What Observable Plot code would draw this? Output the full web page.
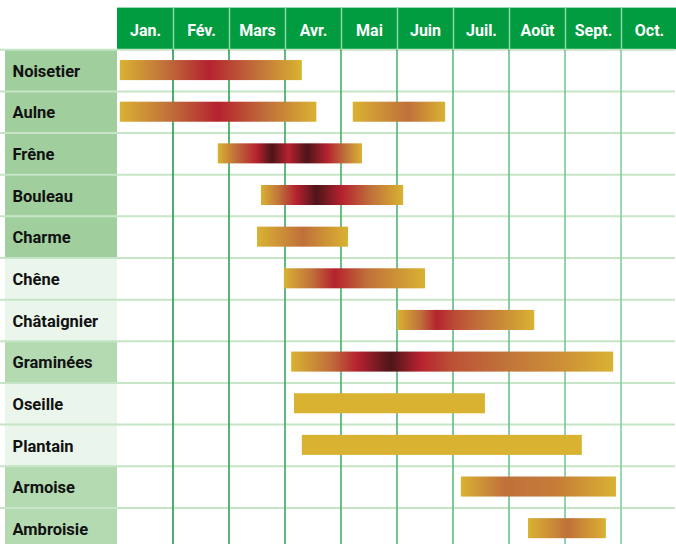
<!DOCTYPE html>
<html>
<head>
<meta charset="utf-8">
<script src="https://cdn.jsdelivr.net/npm/d3@7"></script>
<script src="https://cdn.jsdelivr.net/npm/@observablehq/plot@0.6"></script>
<style>
  html, body { margin: 0; padding: 0; background: #fff; }
  #chart { width: 676px; height: 544px; overflow: hidden; }
</style>
</head>
<body>
<div id="chart"></div>
<script>
// ---- Data ----
const months = ["Jan.", "Fév.", "Mars", "Avr.", "Mai", "Juin", "Juil.", "Août", "Sept.", "Oct."];
const plants = ["Noisetier", "Aulne", "Frêne", "Bouleau", "Charme", "Chêne", "Châtaignier", "Graminées", "Oseille", "Plantain", "Armoise", "Ambroisie"];
const labelShade = ["strong", "strong", "strong", "strong", "strong", "pale", "pale", "soft", "pale", "pale", "soft", "soft"];

// pollination periods, in months from 1 January
const barPlant = ["Noisetier", "Aulne", "Aulne", "Frêne", "Bouleau", "Charme", "Chêne", "Châtaignier", "Graminées", "Oseille", "Plantain", "Armoise", "Ambroisie"];
const barStart = [0.05, 0.05, 4.21, 1.80, 2.57, 2.50, 2.98, 5.00, 3.11, 3.16, 3.30, 6.14, 7.34];
const barEnd   = [3.30, 3.56, 5.86, 4.375, 5.11, 4.125, 5.50, 7.45, 8.86, 6.57, 8.30, 8.91, 8.73];

// allergy intensity along each bar: [fraction of bar, level 0 (low) .. 3 (very high)]
const barProfiles = [
  [[0, 0], [0.25, 1], [0.49, 2], [0.75, 1], [1, 0]],
  [[0, 0], [0.25, 1], [0.50, 2], [0.75, 1], [1, 0]],
  [[0, 0], [0.60, 1], [1, 0]],
  [[0, 0], [0.12, 1], [0.27, 2], [0.375, 3], [0.49, 2], [0.62, 3], [0.76, 2], [0.88, 1], [1, 0]],
  [[0, 0], [0.13, 1], [0.25, 2], [0.39, 3], [0.57, 2], [0.77, 1], [1, 0]],
  [[0, 0], [0.50, 1], [1, 0]],
  [[0, 0], [0.20, 1], [0.36, 2], [0.59, 1], [1, 0]],
  [[0, 0], [0.17, 1], [0.29, 2], [0.41, 1.5], [0.60, 1], [0.85, 0.4], [1, 0]],
  [[0, 0], [0.12, 1], [0.205, 2], [0.31, 3], [0.40, 2], [0.50, 1.4], [0.65, 1], [0.85, 0.5], [1, 0]],
  [[0, 0], [1, 0]],
  [[0, 0], [1, 0]],
  [[0, 0], [0.28, 1], [0.62, 0.8], [1, 0]],
  [[0, 0], [0.51, 1], [1, 0]]
];

// ---- Styles ----
const intensity = d3.scaleLinear().domain([0, 1, 2, 3])
  .range(["#d9b232", "#c0703a", "#b5222f", "#4e1519"]);
const shadeColor = {strong: "#a0cf9d", soft: "#b3dab1", pale: "#eaf5eb"};
const gridColor = d3.interpolateRgb("#1f9a45", "#80cea0");

const bars = barPlant.map((p, i) => ({plant: p, start: barStart[i], end: barEnd[i], id: `pg${i}`}));
const labels = plants.map((p, i) => ({plant: p, shade: labelShade[i]}));
const monthCells = months.map((m, i) => ({label: m, x1: i, x2: i + 1}));
const boundaries = d3.range(1, months.length);

const H = "__header";

const plot = Plot.plot({
  width: 676,
  height: 544,
  x: {domain: [-2, 10], range: [5, 677], axis: null},
  y: {type: "band", domain: [H, ...plants], range: [7.6, 549], padding: 0, round: false, axis: null},
  color: {type: "identity"},
  style: {background: "white", fontFamily: "Roboto, 'Noto Sans', sans-serif", overflow: "hidden"},
  marks: [
    // label column cells
    Plot.rect(labels, {x1: -2, x2: 0, y: "plant", fill: (d) => shadeColor[d.shade]}),
    // header band
    Plot.rect(monthCells, {x1: "x1", x2: "x2", y: () => H, fill: "#009c3f"}),
    // header separators
    Plot.ruleX(boundaries, {x: (d) => d, y1: () => H, y2: () => H, stroke: "#8fd6a8", strokeWidth: 1.5}),
    // row separators
    Plot.tickY(plants, {y: (d) => d, x1: -2, x2: 10, stroke: "#c6e5c6", strokeWidth: 2, dy: -20.8}),
    // month grid lines
    ...boundaries.map((b) =>
      Plot.rect([b], {x1: (d) => d - 0.014, x2: (d) => d + 0.014, y1: () => plants[0], y2: () => plants[plants.length - 1], insetBottom: -25, fill: gridColor((b - 1) / 8)})
    ),
    // pollination bars
    Plot.rect(bars, {x1: "start", x2: "end", y: "plant", fill: (d) => `url(#${d.id})`, insetTop: 10.8, insetBottom: 10.8}),
    // row labels
    Plot.text(labels, {x: -2, y: "plant", text: "plant", dx: 7, dy: 1, textAnchor: "start", fontWeight: "bold", fontSize: 16.5, fill: "#111"}),
    // month labels
    Plot.text(monthCells, {x: (d) => (d.x1 + d.x2) / 2, y: () => H, text: "label", dy: 1.5, fontWeight: "bold", fontSize: 16, fill: "white"})
  ]
});

// gradient definitions for each bar
const defs = d3.select(plot).insert("defs", ":first-child");
bars.forEach((b, i) => {
  const g = defs.append("linearGradient").attr("id", b.id).attr("x1", 0).attr("x2", 1).attr("y1", 0).attr("y2", 0);
  barProfiles[i].forEach(([o, lvl]) => {
    g.append("stop").attr("offset", o).attr("stop-color", intensity(lvl));
  });
});

document.getElementById("chart").appendChild(plot);
</script>
</body>
</html>
